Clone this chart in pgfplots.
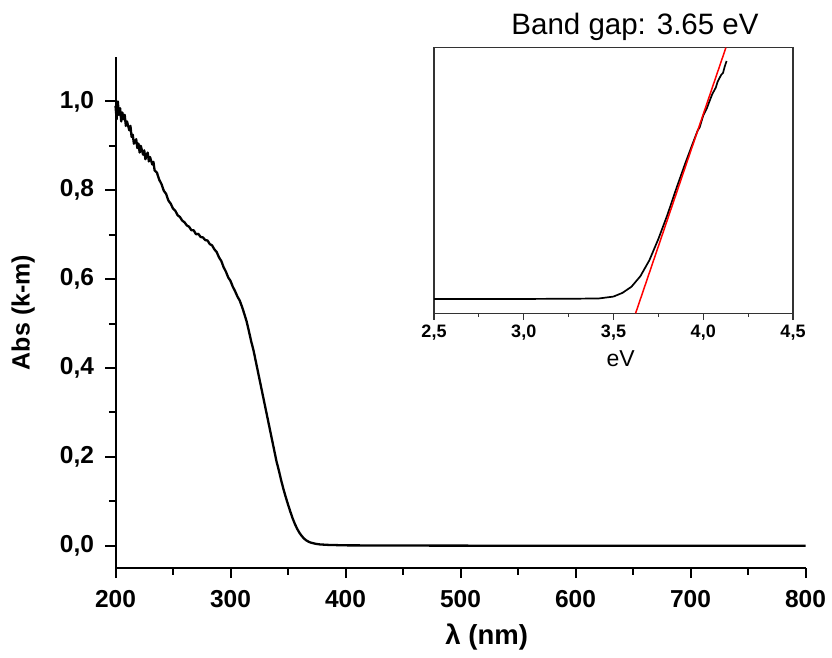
\documentclass[border=0pt]{standalone}
\usepackage{fontspec}
\setmainfont{Liberation Sans}
\usepackage{pgfplots}
\pgfplotsset{compat=1.18}

\begin{document}
\begin{tikzpicture}
\path[use as bounding box] (0,0) rectangle (832pt,657pt);

% main spectrum
\begin{axis}[
  at={(115.5pt,89pt)}, anchor=south west,
  scale only axis, width=690pt, height=511pt,
  xmin=200, xmax=800, ymin=-0.05, ymax=1.1,
  axis x line*=bottom, axis y line*=left,
  axis line style={line width=2pt,-},
  xtick={200,300,...,800}, minor x tick num=1,
  ytick={0,0.2,...,1.0}, minor y tick num=1,
  tick align=outside,
  major tick length=10pt, minor tick length=6.5pt,
  every tick/.style={line width=2pt,black},
  /pgf/number format/assume math mode=true,
  ticklabel style={font=\fontsize{24.5pt}{29pt}\selectfont\bfseries},
  xticklabel style={yshift=-9pt},
  yticklabel style={xshift=-8pt,/pgf/number format/.cd,fixed,fixed zerofill,precision=1,use comma},
  xlabel={\textbf{λ (nm)}},
  ylabel={\textbf{Abs (k-m)}},
  label style={font=\fontsize{25pt}{30pt}\selectfont},
  xlabel style={font=\fontsize{27.5pt}{32pt}\selectfont,
    at={(axis description cs:0.538,-0.135)},anchor=center},
  ylabel style={at={(axis description cs:-0.134,0.5)},anchor=center},
  clip=false,
]
\addplot[black, line width=2.3pt, line join=round] coordinates {
(200,0.99) (201,0.96) (202,1.0) (203,0.97) (204,0.985) (205,0.955) (206,0.975)
(207,0.96) (208,0.97) (209,0.945) (210,0.955) (212,0.935) (213,0.945) (214,0.92)
(215,0.925) (216,0.905) (218,0.915) (219,0.895) (220,0.905) (221,0.885) (222,0.9)
(224,0.88) (225,0.89) (226,0.87) (228,0.885) (229,0.865) (230,0.875) (232,0.858)
(233,0.864) (234,0.845) (236,0.840) (238,0.824) (240,0.814) (242,0.799) (244,0.792)
(246,0.777) (248,0.770) (250,0.759) (252,0.754) (254,0.744) (256,0.740) (258,0.732)
(260,0.728) (262,0.721) (264,0.718) (266,0.710) (268,0.710) (270,0.701) (272,0.702)
(274,0.695) (276,0.694) (278,0.688) (280,0.687) (282,0.679) (284,0.676) (286,0.667)
(288,0.661) (290,0.649) (292,0.641) (294,0.627) (296,0.617) (298,0.604) (300,0.596)
(302,0.583) (304,0.573) (306,0.561) (308,0.552) (310,0.538) (312,0.522) (314,0.505)
(316,0.483) (318,0.46) (320,0.44) (322,0.415) (324,0.39) (326,0.365) (328,0.34)
(330,0.315) (332,0.29) (334,0.265) (336,0.24) (338,0.215) (340,0.19) (342,0.17)
(344,0.148) (346,0.128) (348,0.11) (350,0.093) (352,0.077) (354,0.062) (356,0.049)
(358,0.038) (360,0.029) (362,0.022) (364,0.016) (366,0.012) (368,0.009) (370,0.007)
(374,0.0045) (378,0.003) (385,0.002) (400,0.001) (450,0.0005) (600,0.0) (800,0.0)
};
\end{axis}

% inset: band gap
\begin{axis}[
  at={(434pt,343.7pt)}, anchor=south west,
  scale only axis, width=359pt, height=265.6pt,
  xmin=2.5, xmax=4.5, ymin=0, ymax=1,
  axis line style={line width=1.3pt,black!80},
  xtick={2.5,3.0,...,4.5}, minor x tick num=1,
  xtick pos=bottom, ytick=\empty,
  tick align=outside,
  major tick length=6.5pt, minor tick length=3.5pt,
  every tick/.style={line width=1.2pt,black!80},
  /pgf/number format/assume math mode=true,
  ticklabel style={font=\fontsize{18pt}{21pt}\selectfont\bfseries},
  xticklabel style={yshift=-2pt,/pgf/number format/.cd,fixed,fixed zerofill,precision=1,use comma},
  xlabel={eV},
  xlabel style={font=\fontsize{23pt}{27pt}\selectfont,
    at={(axis description cs:0.52,-0.17)},anchor=center},
  title={Band gap: 3.65 eV},
  title style={font=\fontsize{29.5pt}{34pt}\selectfont,
    at={(axis description cs:0.56,1.055)},anchor=center},
  clip=false,
]
\addplot[black, line width=1.7pt, line join=round] coordinates {
(2.5,0.054) (3.0,0.054) (3.3,0.055) (3.42,0.056) (3.5,0.063) (3.55,0.077)
(3.6,0.1) (3.65,0.14) (3.7,0.2) (3.75,0.28) (3.8,0.37) (3.85,0.47) (3.9,0.565)
(3.95,0.655) (3.97,0.69) (3.98,0.7) (4.0,0.745) (4.02,0.772) (4.03,0.79) (4.05,0.825)
(4.07,0.85) (4.08,0.872) (4.1,0.898) (4.11,0.905) (4.12,0.93) (4.13,0.95)
};
\addplot[red, line width=1.5pt] coordinates {(3.623,0) (4.126,1.0)};
\end{axis}
\end{tikzpicture}
\end{document}
